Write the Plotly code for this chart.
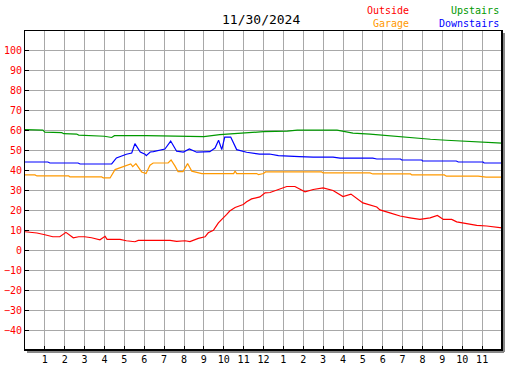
import plotly.graph_objects as go

# ---- data (hours since midnight, temperatures) ----
outside_h = [0, 0.6, 1.0, 1.4, 1.75, 2.06, 2.43, 2.7, 3.0, 3.35, 3.77, 4.03, 4.13, 4.78, 5.1, 5.53, 5.7,
             6.0, 6.4, 6.9, 7.3, 7.63, 8.05, 8.3, 8.72, 9.06, 9.22, 9.48, 9.73, 10.15, 10.3, 10.57, 10.98,
             11.15, 11.4, 11.82, 12.08, 12.33, 12.66, 13.17, 13.58, 14.09, 14.5, 15.0, 15.5, 16.0, 16.4,
             17.0, 17.7, 17.86, 18.36, 18.87, 19.37, 19.87, 20.38, 20.75, 21.05, 21.47, 21.72, 22.22,
             22.73, 23.23, 23.56, 24.0]
outside_v = [9.3, 8.7, 7.8, 6.8, 6.8, 9.0, 6.3, 6.8, 6.8, 6.3, 5.3, 7.0, 5.5, 5.5, 4.8, 4.3, 5.0,
             5.0, 5.3, 5.3, 5.0, 4.5, 4.8, 4.4, 6.0, 6.8, 8.8, 10.0, 13.8, 18.0, 19.7, 21.5, 23.0,
             24.3, 25.8, 26.8, 28.8, 29.0, 30.3, 32.0, 32.0, 29.3, 30.5, 31.3, 30.0, 27.0, 28.2,
             23.8, 21.7, 20.3, 18.8, 17.2, 16.3, 15.5, 16.3, 17.5, 15.5, 15.5, 14.3, 13.5,
             12.5, 12.2, 11.7, 11.2]

upstairs_h = [0, 0.9, 1.0, 1.85, 1.95, 2.6, 2.7, 3.9, 4.0, 4.36, 4.5, 6.1, 8.9, 9.0, 9.8, 10.8, 12.0,
              13.2, 13.7, 15.7, 16.5, 17.36, 18.2, 18.9, 19.5, 20.4, 21.2, 22.05, 22.7, 23.4, 24]
upstairs_v = [60.5, 60.3, 59.3, 59.0, 58.5, 58.3, 57.8, 57.5, 57.2, 56.6, 57.5, 57.5, 57.3, 57.0, 58.0,
              58.8, 59.5, 59.8, 60.3, 60.3, 58.8, 58.3, 57.5, 57.0, 56.3, 55.7, 55.2, 54.8, 54.3, 53.8, 53.8]

downstairs_h = [0, 1.15, 1.25, 2.67, 2.77, 4.36, 4.6, 5.1, 5.37, 5.53, 5.8, 6.04, 6.1, 6.3, 6.46, 7.04,
                7.33, 7.63, 7.97, 8.27, 8.64, 9.3, 9.56, 9.74, 9.9, 10.05, 10.35, 10.65, 11.15, 11.8,
                12.3, 12.75, 13.8, 14.5, 15.5, 15.85, 17.5, 17.7, 18.9, 18.95, 19.96, 20.0, 21.7, 21.8,
                23.05, 23.1, 24]
downstairs_v = [44.3, 44.3, 43.8, 43.8, 43.3, 43.3, 46.3, 48.2, 48.8, 53.5, 49.3, 48.2, 47.5, 49.3, 49.5,
                50.8, 54.8, 49.7, 49.3, 50.8, 49.2, 49.5, 51.3, 55.2, 50.5, 56.8, 56.8, 50.5, 49.2, 48.2,
                48.3, 47.5, 47.0, 46.7, 46.7, 46.2, 46.2, 45.8, 45.8, 45.3, 45.3, 44.8, 44.8, 44.3,
                44.3, 43.8, 43.8]

garage_h = [0, 0.5, 0.6, 2.2, 2.26, 3.86, 3.94, 4.28, 4.53, 4.78, 5.1, 5.32, 5.42, 5.58, 5.87, 6.09,
            6.29, 6.45, 7.2, 7.35, 7.55, 7.7, 7.95, 8.18, 8.39, 8.9, 10.5, 10.57, 10.65, 11.65, 11.75,
            12.0, 12.1, 14.93, 15.0, 17.36, 17.5, 19.4, 19.46, 21.1, 21.2, 22.8, 23.2, 24]
garage_v = [37.8, 37.8, 37.3, 37.3, 36.8, 36.8, 36.3, 36.3, 40.5, 41.3, 42.3, 43.3, 42.0, 43.5, 39.3, 38.5,
            42.7, 43.8, 43.8, 45.3, 42.2, 39.5, 39.5, 43.5, 39.7, 38.5, 38.5, 39.8, 38.5, 38.5, 38.0,
            38.5, 39.3, 39.3, 38.8, 38.8, 38.3, 38.3, 37.8, 37.8, 37.2, 37.2, 36.7, 36.7]

x_tickvals = list(range(1, 24))
x_ticktext = ["1", "2", "3", "4", "5", "6", "7", "8", "9", "10", "11", "12",
              "1", "2", "3", "4", "5", "6", "7", "8", "9", "10", "11"]
y_tickvals = list(range(-40, 101, 10))
title_text = "11/30/2024"

RED, ORANGE, GREEN, BLUE = "#ff0000", "#ff9900", "#009900", "#0000ff"
MONO = "DejaVu Sans Mono"

fig = go.Figure()
for h, v, c, n in [(upstairs_h, upstairs_v, GREEN, "Upstairs"),
                   (downstairs_h, downstairs_v, BLUE, "Downstairs"),
                   (garage_h, garage_v, ORANGE, "Garage"),
                   (outside_h, outside_v, RED, "Outside")]:
    fig.add_trace(go.Scatter(x=h, y=v, mode="lines", name=n,
                             line=dict(color=c, width=1.2), hoverinfo="skip"))

W, H = 527, 370
L, R, T, B = 25, 25, 31, 20
pw, ph = W - L - R, H - T - B

fig.update_layout(
    width=W, height=H, margin=dict(l=L, r=R, t=T, b=B, autoexpand=False),
    paper_bgcolor="white", plot_bgcolor="white", showlegend=False,
    font=dict(family=MONO, size=10, color="black"),
    xaxis=dict(range=[0, 24], tickvals=x_tickvals, ticktext=x_ticktext, automargin=False,
               showgrid=True, gridcolor="#a8a8a8", gridwidth=1,
               ticks="inside", ticklen=4, tickcolor="black", tickwidth=1,
               showline=True, linecolor="black", linewidth=1, mirror=True,
               zeroline=False, tickfont=dict(family=MONO, size=10, color="black")),
    yaxis=dict(range=[-50, 110], tickvals=y_tickvals, automargin=False,
               showgrid=True, gridcolor="#a8a8a8", gridwidth=1,
               ticks="inside", ticklen=4, tickcolor="black", tickwidth=1,
               showline=True, linecolor="black", linewidth=1, mirror=True,
               zeroline=False, tickfont=dict(family=MONO, size=10, color=RED)),
)

# shadow along right and bottom edges
dx, dy = 2.0 / pw, 2.0 / ph
fig.add_shape(type="line", xref="paper", yref="paper", x0=1 + dx, x1=1 + dx, y0=-dy, y1=1 - dy,
              line=dict(color="#888888", width=2))
fig.add_shape(type="line", xref="paper", yref="paper", x0=dx, x1=1 + dx, y0=-dy, y1=-dy,
              line=dict(color="#888888", width=2))
fig.add_shape(type="line", xref="paper", yref="paper", x0=1, x1=1, y0=0, y1=1,
              line=dict(color="black", width=2))
fig.add_shape(type="line", xref="paper", yref="paper", x0=0, x1=1, y0=0, y1=0,
              line=dict(color="black", width=2))

def px_x(p):
    return (p - L) / pw

def px_y(p):
    return (H - B - p) / ph

fig.add_annotation(text=title_text, x=px_x(261), y=px_y(20), xref="paper", yref="paper",
                   showarrow=False, xanchor="center", yanchor="middle",
                   font=dict(family=MONO, size=13, color="black"))
for txt, col, xr, yc in [("Outside", RED, 411, 11), ("Garage", ORANGE, 411, 23),
                         ("Upstairs", GREEN, 501, 11), ("Downstairs", BLUE, 501, 23)]:
    fig.add_annotation(text=txt, x=px_x(xr), y=px_y(yc), xref="paper", yref="paper",
                       showarrow=False, xanchor="right", yanchor="middle",
                       font=dict(family=MONO, size=10, color=col))

fig.write_html("out.html", config={"displayModeBar": False},
               post_script="document.body.style.margin='0';document.body.style.overflow='hidden';")
